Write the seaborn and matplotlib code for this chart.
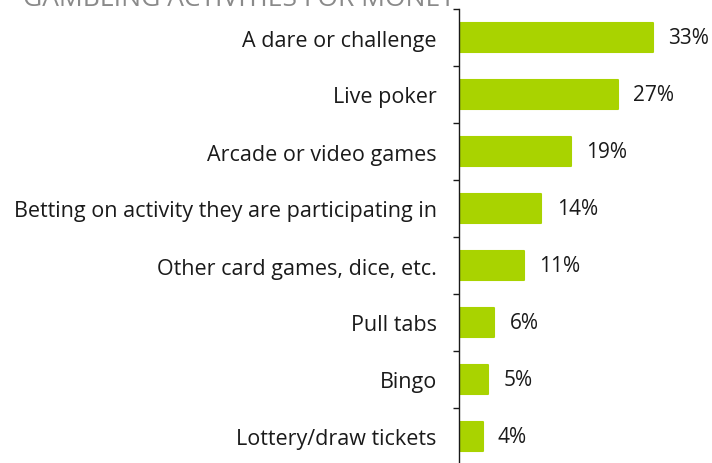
import matplotlib
matplotlib.use("Agg")
import matplotlib.pyplot as plt
import seaborn as sns
import pandas as pd

categories = [
    "A dare or challenge",
    "Live poker",
    "Arcade or video games",
    "Betting on activity they are participating in",
    "Other card games, dice, etc.",
    "Pull tabs",
    "Bingo",
    "Lottery/draw tickets",
]
percentages = [33, 27, 19, 14, 11, 6, 5, 4]
title = "GAMBLING ACTIVITIES FOR MONEY"

bar_color = "#a9d300"
text_color = "#1a1a1a"

sns.set_theme(style="white")
plt.rcParams["font.family"] = ["Open Sans", "DejaVu Sans"]

df = pd.DataFrame({"activity": categories, "pct": percentages})

fig = plt.figure(figsize=(7.12, 4.64), dpi=100)
ax = fig.add_axes([459 / 712, -2 / 464, 253 / 712, 456 / 464])

sns.barplot(data=df, x="pct", y="activity", color=bar_color, width=0.52,
            saturation=1, ax=ax, edgecolor=bar_color, linewidth=1.5)
for p in ax.patches:
    p.set_joinstyle("round")

ax.set_xlim(0, 43)
ax.set_ylim(7.5, -0.5)
ax.set_xlabel("")
ax.set_ylabel("")
ax.set_xticks([])

for side in ["top", "right", "bottom"]:
    ax.spines[side].set_visible(False)
ax.spines["left"].set_color(text_color)
ax.spines["left"].set_linewidth(1.0)

# ticks sit between the categories, labels sit on the bars
ax.set_yticks([i - 0.5 for i in range(8)], minor=True)
ax.tick_params(axis="y", which="minor", left=True, length=4.5, width=1.0,
               color=text_color)
ax.tick_params(axis="y", which="major", length=0, pad=16,
               labelsize=15.5, labelcolor=text_color)

for c in ax.containers:
    ax.bar_label(c, labels=[f"{v}%" for v in percentages], padding=11,
                 fontsize=15, color=text_color)

# title is cropped at the top edge in the original image
fig.text(455 / 712, 1 - 6 / 464, title, ha="right", va="baseline",
         fontsize=19, color="#8a8a8a")

fig.savefig("out.png", dpi=100)
